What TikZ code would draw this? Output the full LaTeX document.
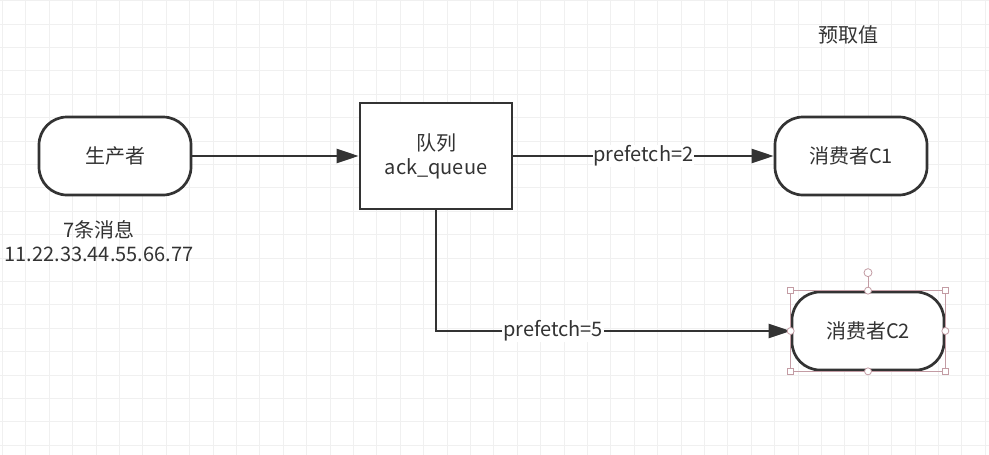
\documentclass[tikz,border=0pt]{standalone}
\usepackage{fontspec}
\setmainfont{Noto Sans CJK SC}
\usetikzlibrary{
    arrows.meta,
    positioning
}
\definecolor{inkgray}{HTML}{333333}
\definecolor{gridgray}{HTML}{F0F0F0}
\definecolor{handlepink}{HTML}{C39CA4}

\begin{document}
\begin{tikzpicture}[
    x=1pt,
    y=-1pt,
    every node/.style={
        font=\fontsize{20pt}{24pt}\selectfont,
        text=inkgray
    },
    terminal/.style={
        draw=inkgray,
        line width=2.7pt,
        fill=white,
        rounded corners=28pt,
        minimum width=152pt,
        minimum height=78pt,
        inner sep=0pt
    },
    queuebox/.style={
        draw=inkgray,
        line width=2.7pt,
        fill=white,
        minimum width=152pt,
        minimum height=106pt,
        align=center,
        inner sep=0pt
    },
    flow/.style={
        draw=inkgray,
        line width=2.5pt,
        -{Triangle[length=22pt,width=14pt]}
    },
    flowlabel/.style={
        fill=white,
        inner sep=1pt
    },
    handle/.style={
        draw=handlepink,
        fill=white,
        line width=0.8pt
    }
]

    % Canvas and grid
    \useasboundingbox (0,0) rectangle (989,455);
    \fill[white] (0,0) rectangle (989,455);
    \foreach \gx in {0,...,42}
        \draw[gridgray, line width=0.8pt]
            ({2.3+23.4*\gx},0) -- ++(0,455);
    \foreach \gy in {0,...,19}
        \draw[gridgray, line width=0.8pt]
            (0,{0.6+23.4*\gy}) -- ++(989,0);

    % Producer, queue and consumers
    \node[terminal] (producer) at (115,156) {生产者};

    \node[queuebox] (queue) at (436,156) {队列\\ack\_queue};

    \node[terminal] (consumerA) at (851,156) {消费者C1};

    \node[terminal] (consumerB) at (868,331) {消费者C2};

    % Notes
    \node[align=center] (msgcount) at (99,241)
        {7条消息\\11.22.33.44.55.66.77};

    \node (prefetchnote) at (848,35) {预取值};

    % Message flow
    \draw[flow]
        (producer.east) -- (queue.west);

    \draw[flow]
        (queue.east)
        -- node[flowlabel] {prefetch=2}
        (consumerA.west);

    \draw[flow]
        (queue.south)
        |- node[flowlabel, pos=0.665] {prefetch=5}
        (consumerB.west);

    % Selection handles on C2
    \draw[handlepink, line width=0.8pt]
        (consumerB.north west) rectangle (consumerB.south east);

    \coordinate (rotknob) at ([yshift=18pt]consumerB.north);
    \draw[handlepink, line width=0.8pt]
        (consumerB.north) -- ([yshift=-4pt]rotknob);
    \draw[handle] (rotknob) circle (4pt);

    \foreach \corner in {north west, north east, south west, south east}
        \draw[handle]
            ([shift={(-3,-3)}]consumerB.\corner) rectangle ++(6,6);

    \foreach \side in {north, south, east, west}
        \draw[handle] (consumerB.\side) circle (3.5pt);

\end{tikzpicture}
\end{document}
